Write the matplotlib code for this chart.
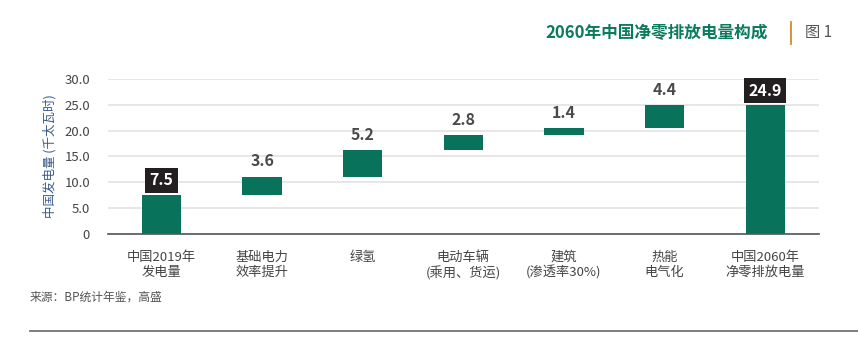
import matplotlib.pyplot as plt
import numpy as np

plt.rcParams['font.family'] = ['Noto Sans CJK SC', 'DejaVu Sans']

categories = ['中国2019年\n发电量', '基础电力\n效率提升', '绿氢', '电动车辆\n(乘用、货运)',
              '建筑\n(渗透率30%)', '热能\n电气化', '中国2060年\n净零排放电量']
changes = [7.5, 3.6, 5.2, 2.8, 1.4, 4.4, 24.9]
is_total = [True, False, False, False, False, False, True]
yticks = [0, 5, 10, 15, 20, 25, 30]
ytick_labels = ['0', '5.0', '10.0', '15.0', '20.0', '25.0', '30.0']

GREEN = '#08735a'

fig = plt.figure(figsize=(8.58, 3.39), dpi=100)
ax = fig.add_axes([0.126, 0.310, 0.828, 0.457])

# waterfall bottoms
bottoms = []
running = 0.0
for v, tot in zip(changes, is_total):
    if tot:
        bottoms.append(0.0)
        running = v
    else:
        bottoms.append(running)
        running += v

x = np.arange(len(categories))
ax.bar(x, changes, bottom=bottoms, width=0.39, color=GREEN, zorder=3)

for xi, v, b, tot in zip(x, changes, bottoms, is_total):
    top = b + v
    if tot:
        ax.text(xi, top + 1.3, f'{v:.1f}', ha='center', va='bottom', fontsize=11.5,
                fontweight='bold', color='white',
                bbox=dict(boxstyle='square,pad=0.28', fc='#231f20', ec='none'))
    else:
        ax.text(xi, top + 1.4, f'{v:.1f}', ha='center', va='bottom', fontsize=11.5,
                fontweight='bold', color='#4a4a4a')

ax.set_xlim(-0.53, 6.53)
ax.set_ylim(0, 30)
ax.set_yticks(yticks)
ax.set_yticklabels(ytick_labels)
ax.set_xticks(x)
ax.set_xticklabels(categories, fontsize=9.5, color='#444444', linespacing=1.2)
ax.tick_params(axis='y', length=0, labelsize=9.5, labelcolor='#444444', pad=13)
ax.tick_params(axis='x', length=0, pad=12)
ax.grid(axis='y', color='#e3e3e3', linewidth=1.2, zorder=0)
for s in ['top', 'right', 'left']:
    ax.spines[s].set_visible(False)
ax.spines['bottom'].set_color('#555555')
ax.spines['bottom'].set_linewidth(1.2)
ax.spines['bottom'].set_zorder(4)
ax.set_ylabel('中国发电量 (千太瓦时)', fontsize=9, color='#3b5b8c', labelpad=6)

fig.text(0.895, 0.903, '2060年中国净零排放电量构成', ha='right', va='center',
         fontsize=12, fontweight='bold', color='#0b7a5f')
fig.add_artist(plt.Line2D([0.922, 0.922], [0.87, 0.935], color='#d4892a', linewidth=1.3))
fig.text(0.938, 0.903, '图 1', ha='left', va='center', fontsize=11, color='#555555')

fig.text(0.035, 0.123, '来源：BP统计年鉴，高盛', ha='left', va='center', fontsize=8.5, color='#555555')
fig.add_artist(plt.Line2D([0.035, 1.0], [0.024, 0.024], color='#666666', linewidth=1.2))

fig.savefig('out.png', dpi=100)
